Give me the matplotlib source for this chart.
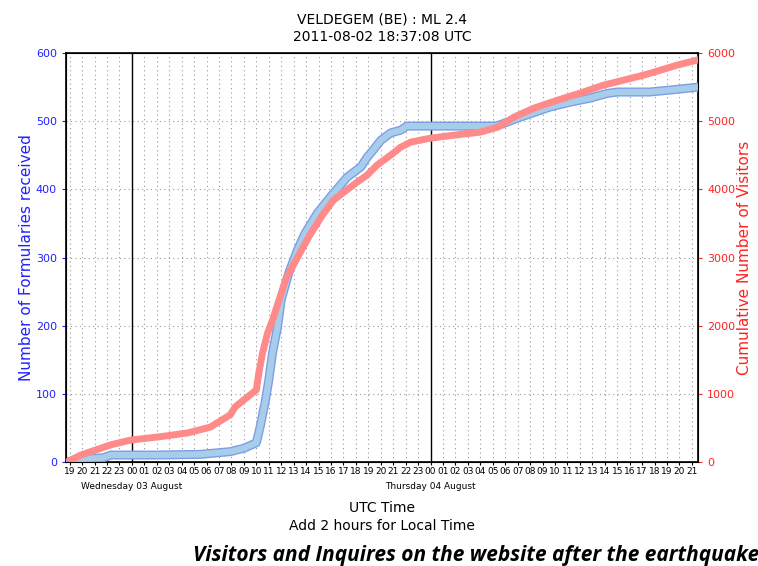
import numpy as np
import matplotlib.pyplot as plt
import matplotlib.patheffects as pe

# hours relative to 2011-08-03 00:00 UTC
blue_h = [-5.2, -4.1, -2.3, -1.7, 2.0, 5.5, 6.1, 7.9, 9.0, 10.0, 10.3, 10.7, 11.0, 11.3, 11.7,
          12.0, 12.6, 13.3, 13.9, 14.9, 16.0, 17.3, 18.4, 18.9, 19.4, 20.0, 20.8, 21.6, 22.1,
          29.2, 29.6, 31.2, 33.6, 35.2, 36.8, 38.2, 39.0, 41.6, 43.3, 45.4]
blue_v = [0, 4, 6, 10, 10, 11, 12, 15, 20, 28, 51, 87, 120, 160, 198,
          238, 277, 311, 335, 365, 390, 418, 433, 447, 458, 472, 483, 487, 493,
          493, 495, 506, 521, 528, 534, 541, 543, 543, 546, 550]

red_h = [-5.2, -4.1, -1.7, -0.1, 2.3, 4.5, 6.3, 7.9, 8.3, 9.0, 10.0, 10.2, 10.5, 10.9, 11.3,
         12.4, 13.3, 14.3, 15.3, 16.2, 18.1, 18.9, 19.7, 20.8, 21.6, 22.4, 24.0, 25.9, 28.0, 29.4,
         30.7, 32.3, 34.2, 36.0, 37.9, 39.5, 41.1, 42.2, 43.8, 45.4]
red_v = [0, 100, 250, 320, 370, 425, 510, 690, 807, 910, 1056, 1305, 1600, 1890, 2083,
         2700, 3000, 3330, 3620, 3843, 4108, 4210, 4357, 4504, 4620, 4694, 4753, 4797, 4841, 4914,
         5061, 5193, 5310, 5413, 5531, 5604, 5677, 5736, 5824, 5897]

hour_ticks = np.arange(-5, 46)
hour_labels = ['%02d' % (h % 24) for h in hour_ticks]
day_pos = [0, 24]
day_labels = ['Wednesday 03 August', 'Thursday 04 August']

fig = plt.figure(figsize=(7.58, 5.66), dpi=100)
fig.patch.set_facecolor('white')
ax = fig.add_axes([0.087, 0.184, 0.834, 0.722])
ax2 = ax.twinx()

ax.set_xlim(-5.3, 45.5)
ax.set_ylim(0, 600)
ax2.set_ylim(0, 6000)

ax.set_xticks(hour_ticks)
ax.set_xticklabels(hour_labels, fontsize=6.5)
ax.set_yticks(np.arange(0, 601, 100))
ax.tick_params(axis='y', colors='#2222ff', labelsize=8, length=3)
ax.tick_params(axis='x', length=2, pad=2)
ax2.set_yticks(np.arange(0, 6001, 1000))
ax2.tick_params(axis='y', colors='#ff2222', labelsize=8, length=3)

ax.grid(True, linestyle=(0, (1, 3)), color='#999999', linewidth=0.8)
for d in day_pos:
    ax.axvline(d, color='black', linewidth=1)

ax.plot(blue_h, blue_v, color='#a8cdea', linewidth=4.5, solid_joinstyle='round',
        path_effects=[pe.Stroke(linewidth=6.5, foreground='#7b9fe6'), pe.Normal()], zorder=3)
ax2.plot(red_h, red_v, color='#ff8a8a', linewidth=5, solid_joinstyle='round', zorder=3)

ax.set_ylabel('Number of Formularies received', color='#2222ff', fontsize=11, labelpad=1)
ax2.set_ylabel('Cumulative Number of Visitors', color='#ff2222', fontsize=11, labelpad=1)

for d, lab in zip(day_pos, day_labels):
    ax.text(d, -0.06, lab, transform=ax.get_xaxis_transform(), ha='center', va='center', fontsize=6.5)

for sp in ax.spines.values():
    sp.set_linewidth(1.2)

fig.text(0.504, 0.966, 'VELDEGEM (BE) : ML 2.4', ha='center', va='center', fontsize=10)
fig.text(0.504, 0.935, '2011-08-02 18:37:08 UTC', ha='center', va='center', fontsize=10)
fig.text(0.504, 0.102, 'UTC Time', ha='center', va='center', fontsize=10)
fig.text(0.504, 0.070, 'Add 2 hours for Local Time', ha='center', va='center', fontsize=10)
fig.text(0.255, 0.018, 'Visitors and Inquires on the website after the earthquake',
         ha='left', va='center', fontsize=15, fontweight='bold', fontstyle='italic', family='Open Sans')

fig.savefig('out.png', dpi=100)
